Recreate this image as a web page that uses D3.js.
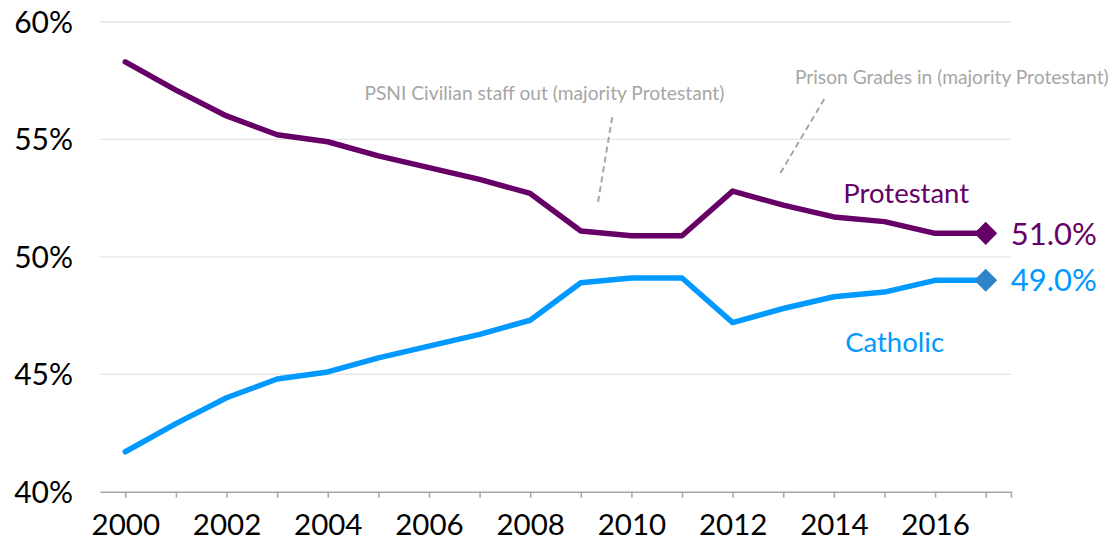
<!DOCTYPE html>
<html>
<head>
<meta charset="utf-8">
<script src="https://cdn.jsdelivr.net/npm/d3@7"></script>
<style>
  body { margin: 0; background: #fff; }
  svg { display: block; font-family: "Lato", "Open Sans", sans-serif; }
</style>
</head>
<body>
<svg id="chart" width="1113" height="541"></svg>
<script>
const years = d3.range(2000, 2018);
const protestant = [58.3, 57.1, 56.0, 55.2, 54.9, 54.3, 53.8, 53.3, 52.7, 51.1, 50.9, 50.9, 52.8, 52.2, 51.7, 51.5, 51.0, 51.0];
const catholic = [41.7, 42.9, 44.0, 44.8, 45.1, 45.7, 46.2, 46.7, 47.3, 48.9, 49.1, 49.1, 47.2, 47.8, 48.3, 48.5, 49.0, 49.0];
const yTicks = [40, 45, 50, 55, 60];
const xTickLabels = [2000, 2002, 2004, 2006, 2008, 2010, 2012, 2014, 2016];

const notes = [
  { text: "PSNI Civilian staff out (majority Protestant)", labelYear: 2008.28, labelValue: 56.68, from: [2009.62, 55.95], to: [2009.33, 52.2] },
  { text: "Prison Grades in (majority Protestant)", labelYear: 2016.33, labelValue: 57.38, from: [2013.81, 56.72], to: [2012.92, 53.48] }
];

const svg = d3.select("#chart");
const x = d3.scaleLinear().domain([1999.5, 2017.5]).range([100, 1011]);
const y = d3.scaleLinear().domain([40, 60]).range([491.7, 22]);

// gridlines
svg.append("g")
  .selectAll("line")
  .data(yTicks.filter(d => d > 40))
  .join("line")
  .attr("x1", x.range()[0])
  .attr("x2", x.range()[1])
  .attr("y1", d => y(d))
  .attr("y2", d => y(d))
  .attr("stroke", "#e3e3e3")
  .attr("stroke-width", 1.3);

// y axis labels
const yAxis = d3.axisLeft(y).tickValues(yTicks).tickSize(0).tickPadding(27).tickFormat(d => d + "%");
svg.append("g")
  .attr("transform", `translate(${x.range()[0]},0)`)
  .call(yAxis)
  .call(g => g.select(".domain").remove())
  .call(g => g.selectAll("text").attr("font-size", 30).attr("fill", "#000").attr("font-family", "Lato, sans-serif").attr("dy", "0.35em"));

// x axis
const xAxis = d3.axisBottom(x).tickValues(years.concat([2017.5])).tickSize(6).tickSizeOuter(0)
  .tickFormat(d => xTickLabels.includes(d) ? d : "");
svg.append("g")
  .attr("transform", `translate(0,${y(40)})`)
  .call(xAxis)
  .call(g => g.select(".domain").attr("stroke", "#a6a6a6").attr("stroke-width", 1.5))
  .call(g => g.selectAll(".tick line").attr("stroke", "#a6a6a6").attr("stroke-width", 1.5))
  .call(g => g.selectAll("text").attr("font-size", 29.5).attr("fill", "#000").attr("font-family", "Lato, sans-serif").attr("dy", "1.15em"));

// annotations
notes.forEach(n => {
  svg.append("text")
    .attr("x", x(n.labelYear))
    .attr("y", y(n.labelValue))
    .attr("text-anchor", "middle")
    .attr("font-size", 19.2)
    .attr("fill", "#a6a6a6")
    .text(n.text);
  svg.append("line")
    .attr("x1", x(n.from[0])).attr("y1", y(n.from[1]))
    .attr("x2", x(n.to[0])).attr("y2", y(n.to[1]))
    .attr("stroke", "#a6a6a6")
    .attr("stroke-width", 2)
    .attr("stroke-dasharray", "6,4");
});

// lines
const line = d3.line().x((d, i) => x(years[i])).y(d => y(d));
const series = [
  { name: "Protestant", values: protestant, color: "#660066", marker: "#660066", labelYear: 2015.43, labelValue: 52.3 },
  { name: "Catholic", values: catholic, color: "#0099ff", marker: "#2e84c8", labelYear: 2015.2, labelValue: 45.95 }
];

series.forEach(s => {
  svg.append("path")
    .datum(s.values)
    .attr("d", line)
    .attr("fill", "none")
    .attr("stroke", s.color)
    .attr("stroke-width", 5.5)
    .attr("stroke-linejoin", "round")
    .attr("stroke-linecap", "round");

  const last = s.values.length - 1;
  svg.append("path")
    .attr("d", d3.symbol().type(d3.symbolSquare).size(265)())
    .attr("transform", `translate(${x(years[last])},${y(s.values[last])}) rotate(45)`)
    .attr("fill", s.marker);

  svg.append("text")
    .attr("x", x(years[last]) + 25)
    .attr("y", y(s.values[last]))
    .attr("dy", "0.36em")
    .attr("font-size", 31)
    .attr("fill", s.color)
    .text(s.values[last].toFixed(1) + "%");

  svg.append("text")
    .attr("x", x(s.labelYear))
    .attr("y", y(s.labelValue))
    .attr("text-anchor", "middle")
    .attr("font-size", 27.5)
    .attr("fill", s.color)
    .text(s.name);
});
</script>
</body>
</html>
